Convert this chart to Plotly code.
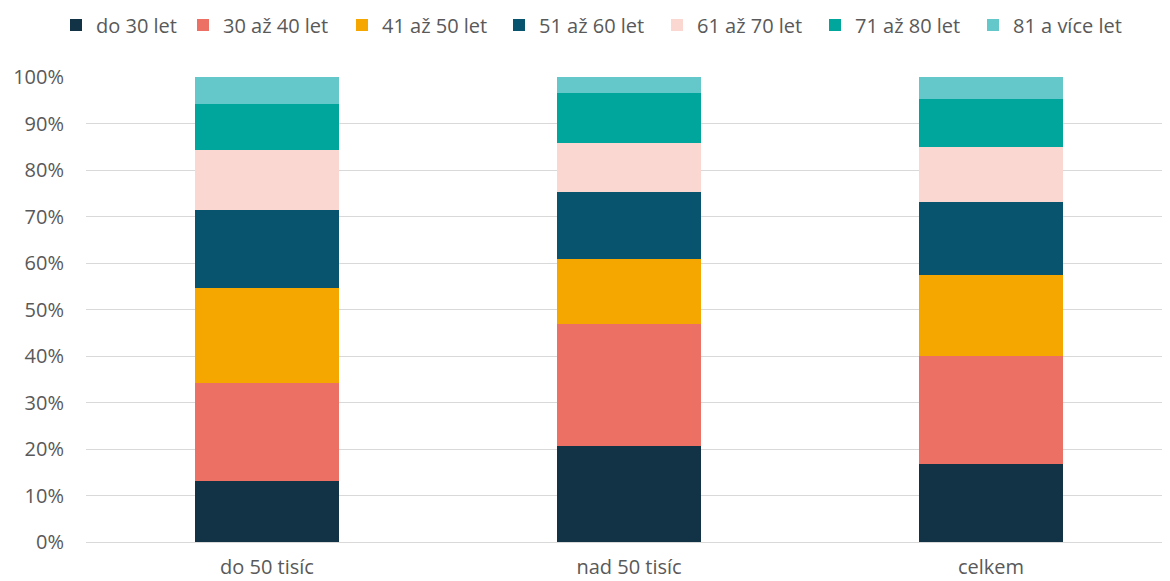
import plotly.graph_objects as go

categories = ["do 50 tisíc", "nad 50 tisíc", "celkem"]
series_names = ["do 30 let", "30 až 40 let", "41 až 50 let", "51 až 60 let",
                "61 až 70 let", "71 až 80 let", "81 a více let"]
do30 = [13.1, 20.7, 16.7]
s30_40 = [21.1, 26.1, 23.2]
s41_50 = [20.4, 14.1, 17.5]
s51_60 = [16.7, 14.3, 15.8]
s61_70 = [12.9, 10.7, 11.8]
s71_80 = [10.0, 10.6, 10.3]
s81 = [5.8, 3.5, 4.7]
series_values = [do30, s30_40, s41_50, s51_60, s61_70, s71_80, s81]
colors = ["#123246", "#EC7063", "#F5A700", "#08546F", "#FAD7D1", "#00A59C", "#64C7C9"]
y_ticks = [0, 0.1, 0.2, 0.3, 0.4, 0.5, 0.6, 0.7, 0.8, 0.9, 1.0]

FONT = "Open Sans"
# left edge (px) of each legend entry
legend_left = [48, 175, 334, 491, 649, 807, 965]

fig = go.Figure()
layout_legends = {}
for i, (name, vals, col) in enumerate(zip(series_names, series_values, colors)):
    key = "legend" if i == 0 else f"legend{i + 1}"
    fig.add_trace(go.Bar(
        x=categories, y=[v / 100 for v in vals], name=name,
        marker=dict(color=col, line=dict(width=0)),
        legend=key, showlegend=True,
    ))
    layout_legends[key] = dict(
        orientation="h", x=legend_left[i] / 1170, xref="container", xanchor="left",
        y=1 - 17 / 581, yref="container", yanchor="middle",
        font=dict(family=FONT, size=20, color="#595959"),
        itemwidth=30, bgcolor="rgba(0,0,0,0)", visible=True,
    )

fig.update_layout(
    barmode="stack", barnorm="fraction",
    width=1170, height=581,
    margin=dict(l=78, r=6, t=69, b=47),
    paper_bgcolor="white", plot_bgcolor="white",
    font=dict(family=FONT, size=20, color="#595959"),
    showlegend=True,
    bargap=0.6,
    xaxis=dict(showgrid=False, showline=True, linecolor="#d9d9d9", linewidth=1,
               ticks="", ticklabelstandoff=7,
               tickfont=dict(family=FONT, size=20, color="#595959")),
    yaxis=dict(range=[0, 1], tickvals=y_ticks, tickformat=".0%",
               showgrid=True, gridcolor="#d9d9d9", gridwidth=1,
               zeroline=False, ticks="", ticklabelstandoff=21,
               tickfont=dict(family=FONT, size=20, color="#595959")),
    **layout_legends,
)

fig.write_html("out.html")
